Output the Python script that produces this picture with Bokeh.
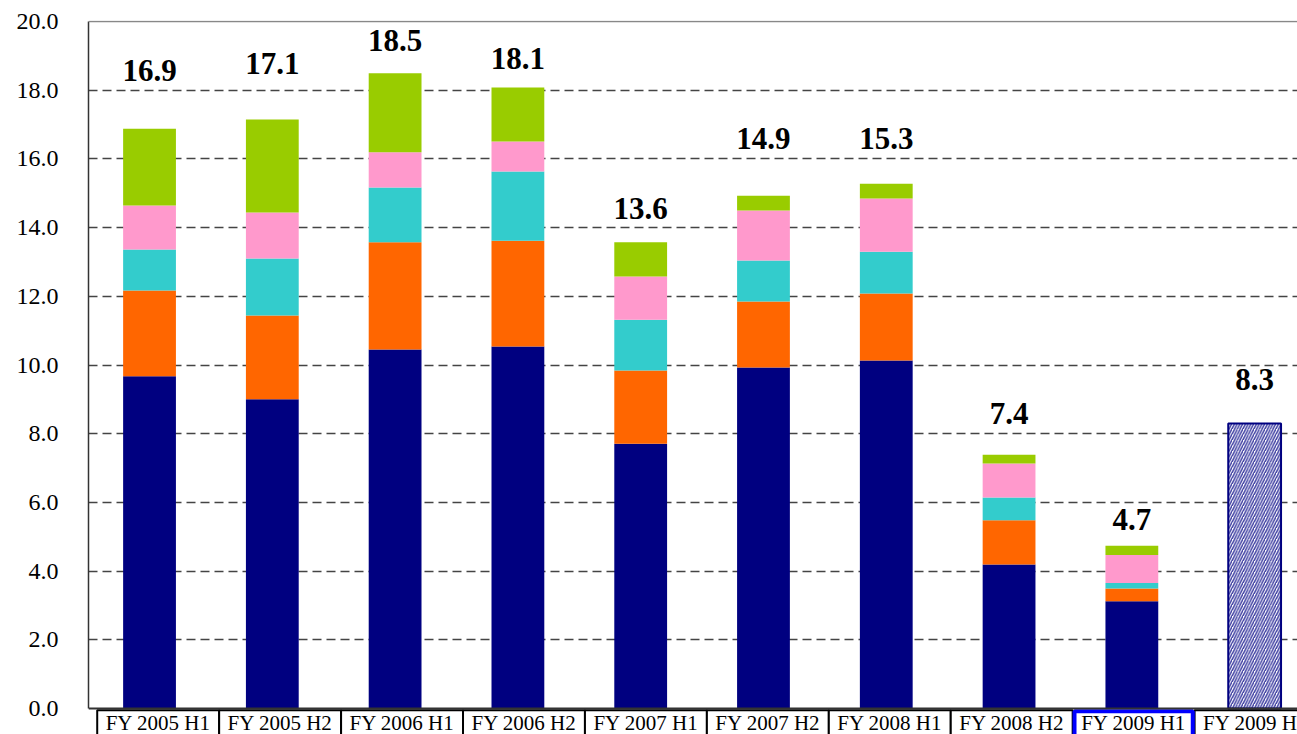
from bokeh.plotting import figure
from bokeh.models import ColumnDataSource, Range1d, FixedTicker, PrintfTickFormatter, Span
from bokeh.core.properties import value
from bokeh.embed import file_html
from bokeh.resources import INLINE

# ---- data ----
categories = ["FY 2005 H1", "FY 2005 H2", "FY 2006 H1", "FY 2006 H2", "FY 2007 H1",
              "FY 2007 H2", "FY 2008 H1", "FY 2008 H2", "FY 2009 H1", "FY 2009 H2"]
navy = [9.67, 9.00, 10.45, 10.54, 7.71, 9.93, 10.13, 4.19, 3.12]
orange = [2.50, 2.44, 3.12, 3.08, 2.13, 1.92, 1.95, 1.29, 0.37]
cyan = [1.19, 1.66, 1.60, 2.01, 1.48, 1.19, 1.22, 0.66, 0.16]
pink = [1.28, 1.34, 1.02, 0.88, 1.26, 1.46, 1.55, 0.99, 0.82]
green = [2.24, 2.71, 2.30, 1.57, 0.99, 0.43, 0.43, 0.26, 0.27]
forecast = 8.3
total_labels = ["16.9", "17.1", "18.5", "18.1", "13.6", "14.9", "15.3", "7.4", "4.7", "8.3"]
y_ticks = [0, 2, 4, 6, 8, 10, 12, 14, 16, 18, 20]

# ---- layout (label anchor heights, in axis units) ----
label_y = [18.28, 18.49, 19.16, 18.63, 14.26, 16.30, 16.30, 8.30, 5.21, 9.29]

FONT = "Liberation Serif"
W, H = 1297, 734
px_per_unit = 34.35
top_border = 20
y_end = 20 + 1 / px_per_unit
y_start = y_end - (H - top_border) / px_per_unit
label_shift = 10 / px_per_unit

p = figure(width=W, height=H, output_backend="svg", toolbar_location=None,
           x_range=Range1d(-0.497, 9.349), y_range=Range1d(y_start, y_end),
           x_axis_location=None, min_border=0, min_border_left=88,
           min_border_top=top_border)
p.outline_line_color = None
p.background_fill_color = "white"
p.border_fill_color = "white"
p.xgrid.visible = False

# y axis
p.yaxis.ticker = FixedTicker(ticks=y_ticks)
p.yaxis.formatter = PrintfTickFormatter(format="%.1f")
p.yaxis.bounds = (0, 20)
p.yaxis.axis_line_color = "#333333"
p.yaxis.axis_line_width = 1.5
p.yaxis.major_tick_out = 0
p.yaxis.major_tick_in = 0
p.yaxis.minor_tick_out = 0
p.yaxis.minor_tick_in = 0
p.yaxis.major_label_standoff = 30
p.yaxis.major_label_text_font = FONT
p.yaxis.major_label_text_font_size = "24px"
p.yaxis.major_label_text_color = "black"

p.ygrid.ticker = FixedTicker(ticks=y_ticks[1:-1])
p.ygrid.grid_line_color = "#444444"
p.ygrid.grid_line_width = 1.3
p.ygrid.grid_line_dash = "9 5"

# stacked bars
n = len(navy)
src = ColumnDataSource(dict(x=list(range(n)), navy=navy, orange=orange, cyan=cyan,
                            pink=pink, green=green))
stack_names = ["navy", "orange", "cyan", "pink", "green"]
colors = ["#000080", "#FF6600", "#33CCCC", "#FF99CC", "#99CC00"]
p.vbar_stack(stack_names, x="x", width=0.43, color=colors, line_color=None, source=src)

# forecast hatched bar
p.vbar(x=[len(categories) - 1], top=[forecast], bottom=0, width=0.43,
       fill_color="white", line_color="#000080", line_width=2,
       hatch_pattern="/", hatch_color="#2a2a98", hatch_alpha=0.9,
       hatch_scale=5.5, hatch_weight=1.5)

# axis lines at 0 and 20
p.add_layout(Span(location=0, dimension="width", line_color="#333333", line_width=2))
p.add_layout(Span(location=20, dimension="width", line_color="#888888", line_width=1.5))

# value labels
p.text(x=list(range(len(categories))), y=[v + label_shift for v in label_y], text=total_labels,
       text_font=value(FONT), text_font_size=value("31px"), text_font_style="bold",
       text_align="center", text_baseline="alphabetic", text_color="black")

# category label boxes
step = 0.993
lefts = [-0.426 + i * step for i in range(len(categories))]
rights = [l + step for l in lefts]
box_top = -0.05
box_bottom = -2.0
hl = categories.index("FY 2009 H1")
p.quad(left=[l for i, l in enumerate(lefts) if i != hl],
       right=[r for i, r in enumerate(rights) if i != hl],
       top=box_top, bottom=box_bottom, fill_color="white", line_color="black", line_width=2)
p.quad(left=[lefts[hl] + 0.015], right=[rights[hl] - 0.015], top=box_top - 0.03,
       bottom=box_bottom, fill_color="white", line_color="#0000FF", line_width=4)
p.text(x=[(l + r) / 2 for l, r in zip(lefts, rights)], y=-0.70 + 10 / px_per_unit,
       text=categories, text_font=value(FONT), text_font_size=value("21px"),
       text_align="center", text_baseline="alphabetic", text_color="black")

open("out.html", "w").write(file_html(p, INLINE))
